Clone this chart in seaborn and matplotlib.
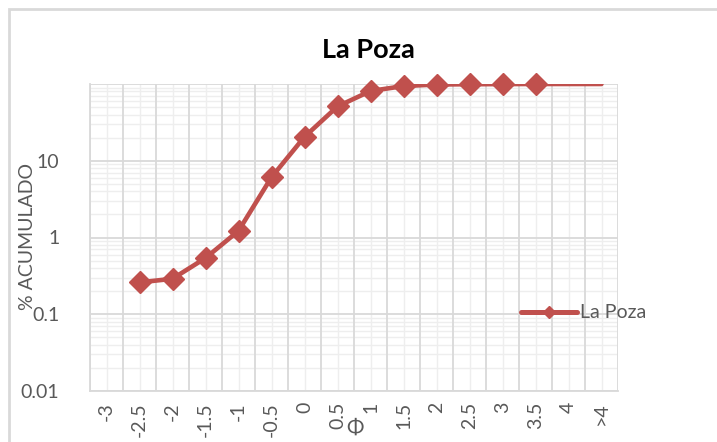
import numpy as np
import matplotlib
matplotlib.use("Agg")
import matplotlib.pyplot as plt
import seaborn as sns
from matplotlib.lines import Line2D
from matplotlib.patches import Rectangle
from matplotlib.ticker import FixedLocator, NullFormatter

# Grain-size classes (phi) and cumulative percentage
categories = ["-3", "-2.5", "-2", "-1.5", "-1", "-0.5", "0", "0.5",
              "1", "1.5", "2", "2.5", "3", "3.5", "4", ">4"]
acumulado = [np.nan, 0.26, 0.29, 0.54, 1.22, 6.1, 20.5, 51.0,
             81.0, 94.0, 98.5, 99.3, 99.7, 100.0, 100.0, 100.0]
marked = [False, True, True, True, True, True, True, True,
          True, True, True, True, True, True, False, False]
y_ticks = [0.01, 0.1, 1, 10, 100]
y_labels = ["0.01", "0.1", "1", "10", ""]
serie = "La Poza"

color = "#C0504D"
major_grid = "#d9d9d9"
minor_grid = "#eeeeee"
text_color = "#595959"

sns.set_style("white")
plt.rcParams["font.family"] = ["Lato", "DejaVu Sans"]

fig = plt.figure(figsize=(7.17, 4.42), dpi=100)
ax = fig.add_axes([90 / 717, 1 - 391 / 442, 528 / 717, 307 / 442])

pos = np.arange(len(categories))
vals = np.array(acumulado, dtype=float)
mask = np.array(marked)

sns.lineplot(x=pos, y=vals, ax=ax, color=color, linewidth=3.3, zorder=3)
ax.plot(pos[mask], vals[mask], linestyle="none", marker="D", markersize=11,
        color=color, markeredgecolor=color, zorder=4, clip_on=False)

ax.set_yscale("log")
ax.set_ylim(0.01, 100)
ax.set_xlim(-0.5, len(categories) - 0.5)

# y axis: decades as major, 2..9 as minor grid
ax.yaxis.set_major_locator(FixedLocator(y_ticks))
ax.set_yticklabels(y_labels)
minor_y = [m * 10.0 ** e for e in range(-2, 2) for m in range(2, 10)]
ax.yaxis.set_minor_locator(FixedLocator(minor_y))
ax.yaxis.set_minor_formatter(NullFormatter())

# x axis: labels at class centres, major grid between classes
ax.set_xticks(pos)
ax.set_xticklabels(categories, rotation=90)
ax.xaxis.set_minor_locator(FixedLocator(np.arange(-0.5, len(categories), 1.0)))

ax.grid(False)
for x in np.arange(-0.5, len(categories), 1.0):
    ax.axvline(x, color=major_grid, linewidth=1.3, zorder=1)
for x in pos:
    ax.axvline(x, color=minor_grid, linewidth=1.0, zorder=0.9)
for y in minor_y:
    ax.axhline(y, color=minor_grid, linewidth=1.0, zorder=0.9)
for y in y_ticks:
    ax.axhline(y, color=major_grid, linewidth=1.3, zorder=1)

for side in ["top", "right"]:
    ax.spines[side].set_visible(False)
for side in ["left", "bottom"]:
    ax.spines[side].set_color(major_grid)
    ax.spines[side].set_linewidth(1.3)

ax.tick_params(axis="both", which="both", length=0, colors=text_color)
ax.tick_params(axis="y", labelsize=14, pad=22)
ax.tick_params(axis="x", labelsize=14, pad=8)
ax.set_xlabel("")
ax.set_ylabel("")

fig.text(368 / 717, 1 - 50 / 442, serie, ha="center", va="center",
         fontsize=19.5, fontweight="bold", color="black")
fig.text(28 / 717, 1 - 237 / 442, "% ACUMULADO", rotation=90, ha="center",
         va="center", fontsize=14, color=text_color)
fig.text(355 / 717, 1 - 428 / 442, "\u03A6", ha="center", va="center",
         fontsize=15, color=text_color)

handle = Line2D([], [], color=color, linewidth=3.6, marker="D", markersize=6)
leg = fig.legend([handle], [serie], loc="center left",
                 bbox_to_anchor=(521 / 717, 1 - 313 / 442), frameon=False,
                 fontsize=14, handlelength=2.9, handletextpad=0.15,
                 borderaxespad=0, borderpad=0)
for t in leg.get_texts():
    t.set_color(text_color)

# chart area frame
fig.patches.append(Rectangle((9 / 717, -0.1), 1.2, 1 - 9 / 442 + 0.1,
                             transform=fig.transFigure, fill=False,
                             edgecolor=major_grid, linewidth=2.0))

fig.savefig("out.png", dpi=100)
